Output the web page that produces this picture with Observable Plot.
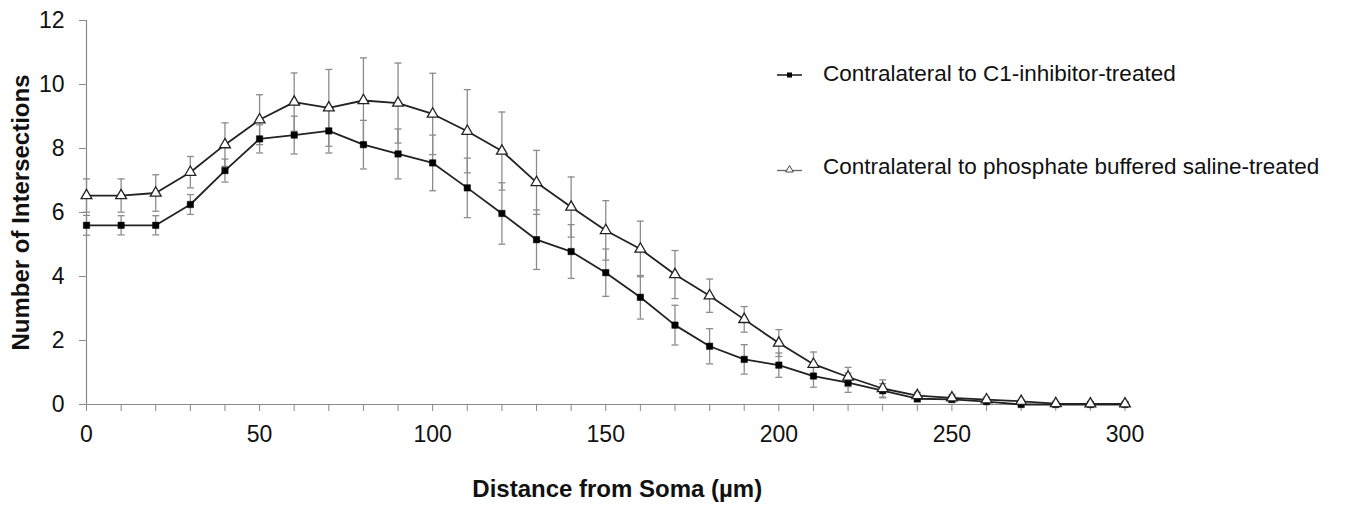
<!DOCTYPE html>
<html>
<head>
<meta charset="utf-8">
<script src="https://cdn.jsdelivr.net/npm/d3@7"></script>
<script src="https://cdn.jsdelivr.net/npm/@observablehq/plot@0.6"></script>
<style>
  body { margin: 0; background: #fff; }
  #wrap { position: relative; width: 1346px; height: 508px; font-family: "Liberation Sans", Arial, sans-serif; }
  #chart { position: absolute; left: 0; top: 0; }
  #legicons { position: absolute; left: 0; top: 0; pointer-events: none; }
  .legtext { position: absolute; left: 823px; font-size: 22.5px; line-height: 26px; color: #111; white-space: nowrap; }
</style>
</head>
<body>
<div id="wrap">
  <div id="chart"></div>
  <svg id="legicons" width="1346" height="508"></svg>
  <div class="legtext" id="leg0" style="top:61px"></div>
  <div class="legtext" id="leg1" style="top:154px"></div>
</div>
<script>
// ---- data ----
const distances = [0, 10, 20, 30, 40, 50, 60, 70, 80, 90, 100, 110, 120, 130, 140, 150,
                   160, 170, 180, 190, 200, 210, 220, 230, 240, 250, 260, 270, 280, 290, 300];

const seriesNames = ["Contralateral to C1-inhibitor-treated",
                     "Contralateral to phosphate buffered saline-treated"];

// squares (C1-inhibitor)
const c1Mean = [5.6, 5.6, 5.6, 6.25, 7.31, 8.3, 8.42, 8.55, 8.12, 7.83, 7.55, 6.77, 5.97, 5.15, 4.78, 4.12,
                3.35, 2.48, 1.82, 1.41, 1.23, 0.89, 0.68, 0.43, 0.18, 0.16, 0.09, 0, 0, 0, 0];
const c1Err  = [0.31, 0.3, 0.3, 0.31, 0.36, 0.44, 0.59, 0.69, 0.76, 0.78, 0.87, 0.93, 0.96, 0.93, 0.84, 0.74,
                0.68, 0.62, 0.55, 0.46, 0.38, 0.35, 0.3, 0.22, 0.1, 0.1, 0.08, 0, 0, 0, 0];

// triangles (phosphate buffered saline)
const pbsMean = [6.53, 6.53, 6.61, 7.26, 8.12, 8.9, 9.45, 9.27, 9.5, 9.42, 9.08, 8.54, 7.92, 6.94, 6.17, 5.44,
                 4.86, 4.06, 3.4, 2.66, 1.92, 1.26, 0.86, 0.5, 0.28, 0.21, 0.15, 0.1, 0.03, 0.02, 0.02];
const pbsErr  = [0.52, 0.52, 0.57, 0.49, 0.68, 0.78, 0.91, 1.2, 1.33, 1.25, 1.27, 1.3, 1.22, 1.0, 0.94, 0.93,
                 0.87, 0.75, 0.52, 0.4, 0.42, 0.38, 0.3, 0.27, 0.1, 0.1, 0.08, 0.05, 0, 0, 0];

const yTicks = [0, 2, 4, 6, 8, 10, 12];
const xLabelTicks = [0, 50, 100, 150, 200, 250, 300];

const xTitle = "Distance from Soma (µm)";
const yTitle = "Number of Intersections";

// ---- build table ----
const c1 = distances.map((d, i) => ({group: "c1", dist: d, mean: c1Mean[i], err: c1Err[i]}));
const pbs = distances.map((d, i) => ({group: "pbs", dist: d, mean: pbsMean[i], err: pbsErr[i]}));
const all = c1.concat(pbs);

const cap = {
  draw(ctx) { ctx.moveTo(-3.5, 0); ctx.lineTo(3.5, 0); }
};
const errColor = "#8c8c8c";
const axisColor = "#8a8a8a";

const chart = Plot.plot({
  width: 1346,
  height: 508,
  marginLeft: 86,
  marginRight: 221.5,
  marginTop: 20,
  marginBottom: 104,
  x: {domain: [0, 300], label: null},
  y: {domain: [0, 12], label: null},
  style: {fontFamily: "Liberation Sans, Arial, sans-serif", color: "#111", background: "white", overflow: "visible"},
  marks: [
    // error bars
    Plot.ruleX(all, {x: "dist", y1: d => d.mean - d.err, y2: d => d.mean + d.err, stroke: errColor, strokeWidth: 1.3}),
    Plot.dot(all, {x: "dist", y: d => d.mean + d.err, symbol: cap, r: 3, fill: "none", stroke: errColor, strokeWidth: 1.3}),
    Plot.dot(all, {x: "dist", y: d => d.mean - d.err, symbol: cap, r: 3, fill: "none", stroke: errColor, strokeWidth: 1.3}),
    // axes
    Plot.ruleX([0], {stroke: axisColor, strokeWidth: 1.2}),
    Plot.ruleY([0], {stroke: axisColor, strokeWidth: 1.2}),
    Plot.axisY({ticks: yTicks, tickSize: 7, tickPadding: 15, fontSize: 23, stroke: axisColor, fill: "#111", label: null}),
    Plot.axisX({ticks: distances, tickSize: 7, tickFormat: () => "", stroke: axisColor, label: null}),
    Plot.axisX({ticks: xLabelTicks, tickSize: 0, tickPadding: 21, fontSize: 23, fill: "#111", label: null}),
    // lines
    Plot.line(all, {x: "dist", y: "mean", z: "group", stroke: "#222", strokeWidth: 1.8}),
    // markers
    Plot.dot(c1, {x: "dist", y: "mean", symbol: "square", r: 3.6, fill: "#000", stroke: "#000", strokeWidth: 0.5}),
    Plot.dot(pbs, {x: "dist", y: "mean", symbol: "triangle", r: 4, fill: "white", stroke: "#222", strokeWidth: 1.3}),
    // titles
    Plot.text([yTitle], {frameAnchor: "left", textAnchor: "middle", dx: -65, rotate: -90, fontSize: 24, fontWeight: "bold", fill: "#111"}),
    Plot.text([xTitle], {frameAnchor: "bottom", dx: 11.5, dy: 92, fontSize: 24, fontWeight: "bold", fill: "#111"})
  ]
});
document.getElementById("chart").appendChild(chart);

// ---- legend ----
document.getElementById("leg0").textContent = seriesNames[0];
document.getElementById("leg1").textContent = seriesNames[1];
const icons = d3.select("#legicons");
icons.append("line").attr("x1", 777).attr("x2", 802).attr("y1", 75).attr("y2", 75)
  .attr("stroke", "#262626").attr("stroke-width", 1.6);
icons.append("rect").attr("x", 787).attr("y", 72.5).attr("width", 5).attr("height", 5).attr("fill", "#000");
icons.append("line").attr("x1", 777).attr("x2", 802).attr("y1", 170.5).attr("y2", 170.5)
  .attr("stroke", "#666").attr("stroke-width", 1.3);
icons.append("path").attr("d", "M789.5,165.5L793.3,172L785.7,172Z")
  .attr("fill", "white").attr("stroke", "#444").attr("stroke-width", 1);
</script>
</body>
</html>
